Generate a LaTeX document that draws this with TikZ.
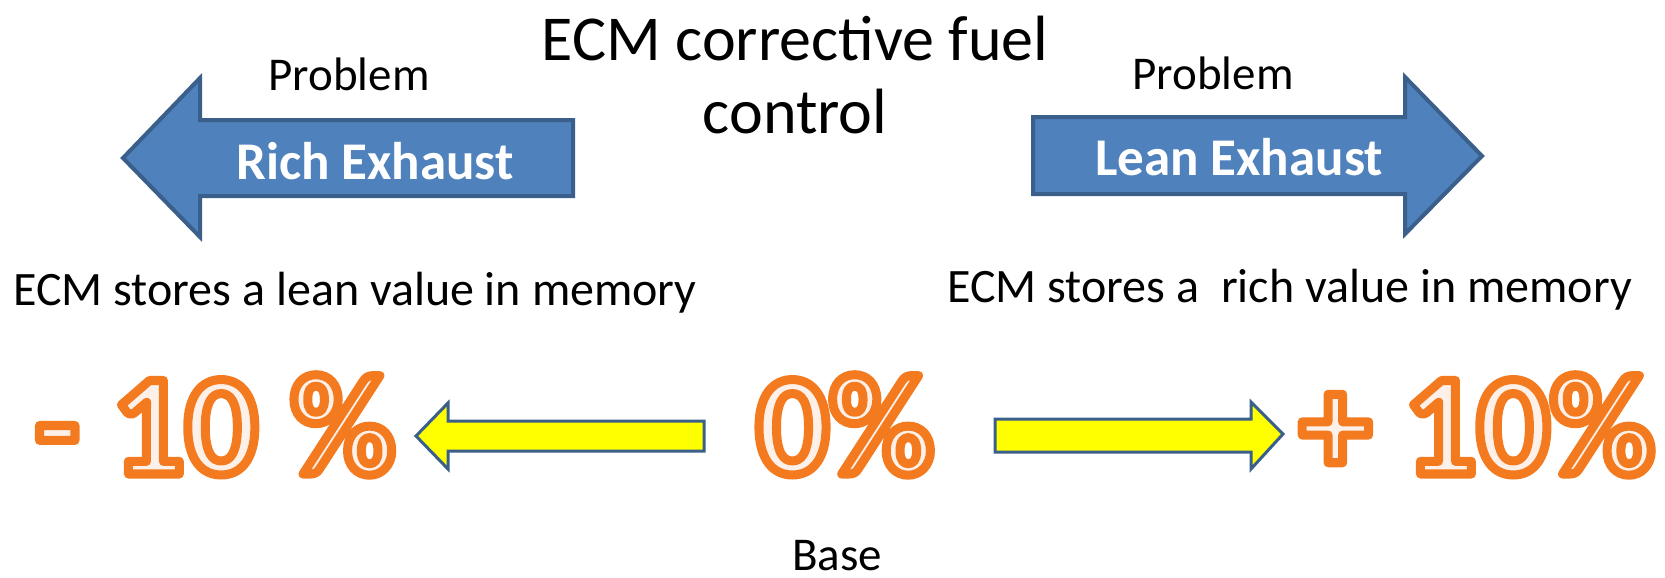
\documentclass[tikz,border=0pt]{standalone}
\usepackage{fontspec}
\setmainfont{Carlito}
\definecolor{bluefill}{HTML}{4F81BD}
\definecolor{blueline}{HTML}{3A5F8B}
\definecolor{yel}{HTML}{FFFF00}
\definecolor{orline}{HTML}{F37A1E}
\definecolor{orfill}{HTML}{FDF0E8}
\newcommand{\orangetext}[1]{{\color{orfill}\special{pdf:literal direct 2 Tr 9 w 1 j 0.953 0.478 0.118 RG}#1\special{pdf:literal direct 0 Tr}}}
\tikzset{
  bigblue/.style={fill=bluefill,draw=blueline,line width=4pt,line join=miter},
  yelarrow/.style={fill=yel,draw=blueline,line width=3pt,line join=miter},
  txt/.style={inner sep=0pt,anchor=base,font=\fontsize{48}{52}\selectfont},
  lbl/.style={inner sep=0pt,anchor=base,text=white,font=\fontsize{53}{57}\selectfont\bfseries},
  pct/.style={inner sep=0pt,anchor=base,font=\fontsize{144}{150}\selectfont\bfseries},
}
\begin{document}
\begin{tikzpicture}[x=1pt,y=-1pt]
\useasboundingbox (0,0) rectangle (1665,578);
% title
\node[txt,font=\fontsize{64}{70}\selectfont] (t1) at (795,60) {ECM corrective fuel};
\node[txt,font=\fontsize{64}{70}\selectfont] (t2) at (795,133) {control};
% big blue arrows
\draw[bigblue] (123,158) -- (200,78) -- (200,120) -- (573,120) -- (573,196) -- (200,196) -- (200,237) -- cycle;
\draw[bigblue] (1482,156) -- (1405,77) -- (1405,117) -- (1033,117) -- (1033,194) -- (1405,194) -- (1405,234) -- cycle;
\node[lbl] (rich) at (375,179) {Rich Exhaust};
\node[lbl] (lean) at (1239,175) {Lean Exhaust};
\node[txt,font=\fontsize{47}{50}\selectfont] (p1) at (349,91) {Problem};
\node[txt,font=\fontsize{47}{50}\selectfont] (p2) at (1213,89) {Problem};
% memory texts
\node[txt,anchor=base west] (m1) at (13,305) {ECM stores a lean value in memory};
\node[txt,anchor=base east] (m2) at (1632,302) {ECM stores a\ \ rich value in memory};
% yellow arrows
\draw[yelarrow] (416,436) -- (448,403) -- (448,421) -- (704,421) -- (704,451) -- (448,451) -- (448,469) -- cycle;
\draw[yelarrow] (1283,434) -- (1251,402) -- (1251,419) -- (995,419) -- (995,452) -- (1251,452) -- (1251,469) -- cycle;
% percentages
\node[pct,anchor=base west] (minus) at (35,474) {\orangetext{- 10 \%}};
\node[pct] (zero) at (845,474) {\orangetext{0\%}};
\node[pct,anchor=base east] (plus) at (1655,474) {\orangetext{+ 10\%}};
\node[txt,font=\fontsize{47}{50}\selectfont] (base) at (837,570) {Base};
\end{tikzpicture}
\end{document}
